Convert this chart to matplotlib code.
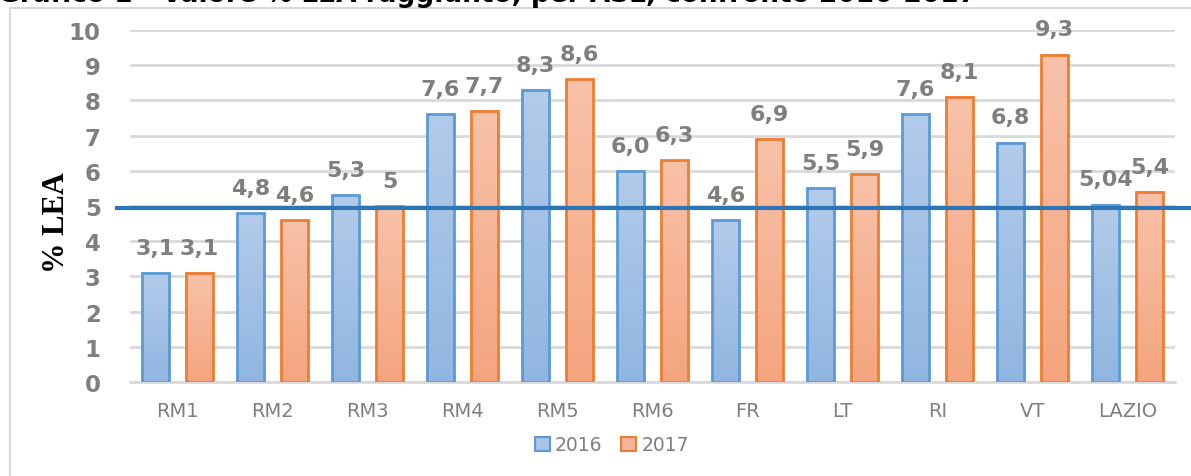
import numpy as np
import matplotlib
matplotlib.use("Agg")
import matplotlib.pyplot as plt
from matplotlib.patches import Rectangle, Patch
from matplotlib.lines import Line2D
from matplotlib.colors import LinearSegmentedColormap

categories = ["RM1", "RM2", "RM3", "RM4", "RM5", "RM6", "FR", "LT", "RI", "VT", "LAZIO"]
v2016 = [3.1, 4.8, 5.3, 7.6, 8.3, 6.0, 4.6, 5.5, 7.6, 6.8, 5.04]
v2017 = [3.1, 4.6, 5.0, 7.7, 8.6, 6.3, 6.9, 5.9, 8.1, 9.3, 5.4]
lab2016 = ["3,1", "4,8", "5,3", "7,6", "8,3", "6,0", "4,6", "5,5", "7,6", "6,8", "5,04"]
lab2017 = ["3,1", "4,6", "5", "7,7", "8,6", "6,3", "6,9", "5,9", "8,1", "9,3", "5,4"]
series_names = ["2016", "2017"]
threshold = 4.93
yticks = list(range(0, 11))
title = "Grafico 1 - Valore % LEA raggiunto, per ASL, confronto 2016-2017"
ylabel = "% LEA"

W, H = 1191, 477
fig = plt.figure(figsize=(W / 100, H / 100), dpi=100)
ax = fig.add_axes([130 / W, 1 - 383 / H, (1175 - 130) / W, (383 - 31) / H])

gray_txt = "#7f7f7f"
grid_c = "#d9d9d9"

styles = [
    dict(top="#b3cbea", bot="#91b6e1", edge="#5b9bd5", off=-0.232),
    dict(top="#f8c2aa", bot="#f4a57e", edge="#ed7d31", off=0.232),
]
bw = 0.28
x = np.arange(len(categories))
grad = np.linspace(0, 1, 256).reshape(-1, 1)

for vals, labs, st in zip([v2016, v2017], [lab2016, lab2017], styles):
    cmap = LinearSegmentedColormap.from_list("g", [st["top"], st["bot"]])
    for xi, v, lab in zip(x, vals, labs):
        x0 = xi + st["off"] - bw / 2
        ax.imshow(grad, cmap=cmap, extent=[x0, x0 + bw, 0, v], aspect="auto",
                  origin="upper", zorder=2, interpolation="bilinear")
        ax.add_patch(Rectangle((x0, 0), bw, v, fill=False, edgecolor=st["edge"],
                               linewidth=2, zorder=3))
        ax.annotate(lab, (xi + st["off"], v), xytext=(0, 11), textcoords="offset points",
                    ha="center", va="bottom", fontsize=16, fontweight="bold",
                    color=gray_txt, zorder=5)

ax.set_xlim(-0.5, len(categories) - 0.5)
ax.set_ylim(0, 10)
ax.set_yticks(yticks)
ax.set_yticklabels([str(t) for t in yticks], fontsize=16.5, fontweight="bold", color=gray_txt)
ax.set_xticks(x)
ax.set_xticklabels(categories, fontsize=14, color=gray_txt)
ax.tick_params(axis="y", length=0, pad=21)
ax.tick_params(axis="x", length=0, pad=14)
ax.grid(axis="y", color=grid_c, linewidth=2, zorder=0)
ax.set_axisbelow(True)
for s in ["top", "right", "left"]:
    ax.spines[s].set_visible(False)
ax.spines["bottom"].set_color(grid_c)
ax.spines["bottom"].set_linewidth(2)

ax.plot([-0.637, 11.5], [threshold, threshold], color="#2e75b6", linewidth=3,
        clip_on=False, zorder=6)

ax.set_ylabel(ylabel, fontsize=22, fontweight="bold", family="Liberation Serif",
              color="black")
ax.yaxis.set_label_coords(-(130 - 71) / (1175 - 130), (383 - 223) / (383 - 31))

handles = [Patch(facecolor="#a9c4e7", edgecolor=styles[0]["edge"], linewidth=1.5),
           Patch(facecolor="#f6b496", edgecolor=styles[1]["edge"], linewidth=1.5)]
fig.legend(handles, series_names, loc="center", bbox_to_anchor=(612 / W, 1 - 446 / H),
           ncol=2, frameon=False, fontsize=13.5, labelcolor=gray_txt,
           handlelength=0.8, handleheight=0.8, handletextpad=0.3, columnspacing=1.0)

# outer chart frame (left and top edges visible)
fig.add_artist(Line2D([10 / W, 10 / W], [0, 1 - 9 / H], color=grid_c, linewidth=1.5))
fig.add_artist(Line2D([10 / W, 1], [1 - 9 / H, 1 - 9 / H], color=grid_c, linewidth=1.5))

fig.text(-0.002, 1 - 2 / H, title, fontsize=19, fontweight="bold", color="black",
         ha="left", va="baseline")

fig.savefig("out.png", dpi=100)
